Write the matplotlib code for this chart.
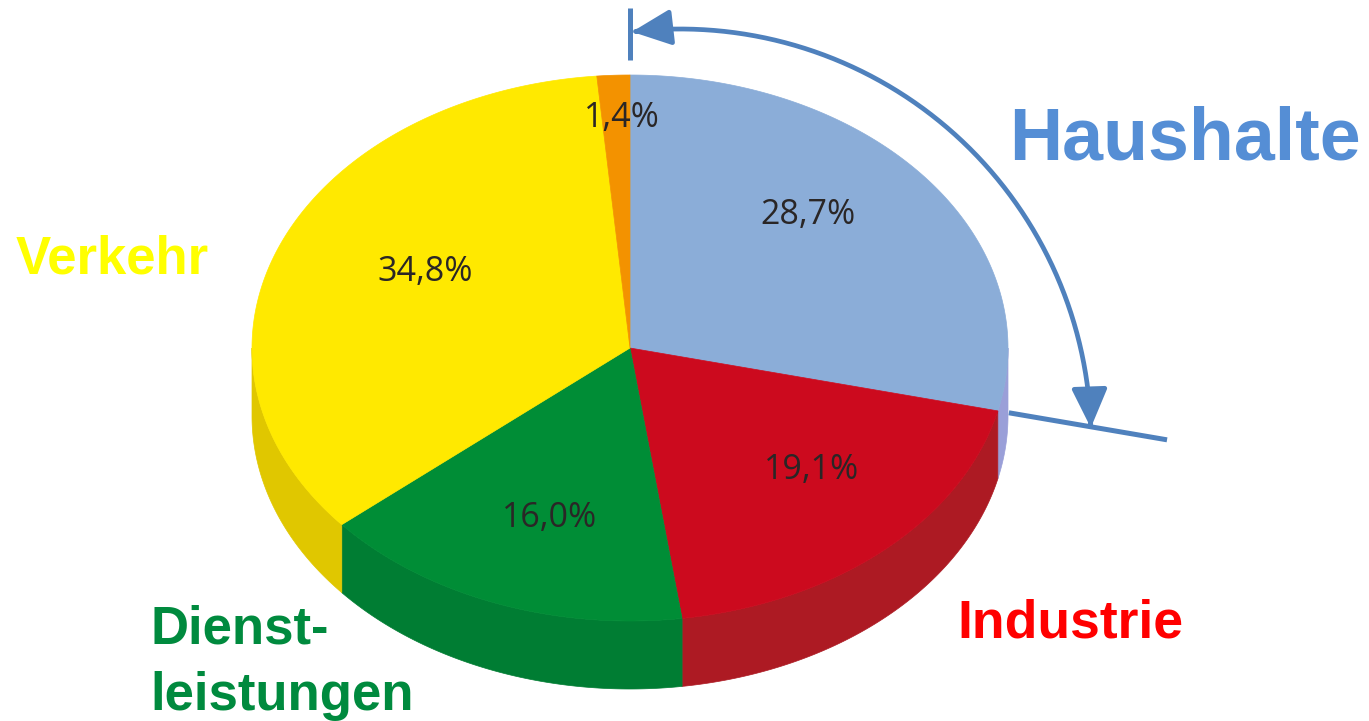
import numpy as np
import matplotlib
matplotlib.use("Agg")
import matplotlib.pyplot as plt
from matplotlib.patches import Polygon, FancyArrowPatch
from matplotlib.path import Path

# Energy consumption shares by sector (clockwise from 12 o'clock)
sectors = ["Haushalte", "Industrie", "Dienstleistungen", "Verkehr", "Sonstige"]
shares = [28.7, 19.1, 16.0, 34.8, 1.4]
share_labels = ["28,7%", "19,1%", "16,0%", "34,8%", "1,4%"]

top_colors = ["#8badd8", "#cc0a1e", "#008d36", "#ffe900", "#f39200"]
side_colors = ["#9a9fd8", "#ad1a23", "#007d33", "#e0c700", "#d98200"]

# Pie geometry in pixel space
CX, CY = 630, 348
RX, RY = 378, 273
DEPTH = 68


def rim(theta_deg, k=1.0, drop=0.0):
    t = np.radians(theta_deg)
    return CX + k * RX * np.sin(t), CY - k * RY * np.cos(t) + drop


fig = plt.figure(figsize=(13.69, 7.21), dpi=100)
ax = fig.add_axes([0, 0, 1, 1])
ax.set_xlim(0, 1369)
ax.set_ylim(721, 0)
ax.axis("off")

bounds = np.concatenate([[0], np.cumsum(shares) / sum(shares) * 360])

# Side walls (visible on the lower half, 90..270 deg)
for i in range(len(shares)):
    a0, a1 = max(bounds[i], 90), min(bounds[i + 1], 270)
    if a1 <= a0:
        continue
    th = np.linspace(a0, a1, 200)
    xt, yt = rim(th)
    xb, yb = rim(th, drop=DEPTH)
    pts = np.column_stack([np.concatenate([xt, xb[::-1]]),
                           np.concatenate([yt, yb[::-1]])])
    ax.add_patch(Polygon(pts, closed=True, facecolor=side_colors[i],
                         edgecolor=side_colors[i], lw=0.5, zorder=1))

# Top face wedges
for i in range(len(shares)):
    th = np.linspace(bounds[i], bounds[i + 1], 300)
    xt, yt = rim(th)
    pts = np.column_stack([np.concatenate([[CX], xt]),
                           np.concatenate([[CY], yt])])
    ax.add_patch(Polygon(pts, closed=True, facecolor=top_colors[i],
                         edgecolor=top_colors[i], lw=0.5, zorder=2))

# Percentage labels
label_xy = [(808, 215), (812, 470), (550, 518), (425, 272), (622, 118)]
for (x, y), txt in zip(label_xy, share_labels):
    ax.text(x, y, txt, ha="center", va="center", fontsize=24.5,
            family="Open Sans", color="#2a2626", zorder=5)

# Sector names
name_font = dict(family="Liberation Sans", fontweight="bold")
ax.text(1185, 160, "Haushalte", ha="center", va="baseline", fontsize=53,
        color="#558ed5", **name_font)
ax.text(112, 273, "Verkehr", ha="center", va="baseline", fontsize=38,
        color="#ffff00", **name_font)
ax.text(1070, 637, "Industrie", ha="center", va="baseline", fontsize=38.5,
        color="#ff0000", **name_font)
ax.text(150, 643, "Dienst-", ha="left", va="baseline", fontsize=38,
        color="#008a3e", **name_font)
ax.text(150, 710, "leistungen", ha="left", va="baseline", fontsize=38,
        color="#008a3e", **name_font)

# Bracket marking the household share
blue = "#4f81bd"
x0, y0 = rim(0, k=1.055)
x1, y1 = rim(0, k=1.245)
ax.plot([x0, x1], [y0, y1], color=blue, lw=3.6, solid_capstyle="butt", zorder=6)
end_angle = bounds[1]
x0, y0 = rim(end_angle, k=1.03)
x1, y1 = rim(end_angle, k=1.46)
ax.plot([x0, x1], [y0, y1], color=blue, lw=3.6, solid_capstyle="butt", zorder=6)

acx, acy, ar = 680, 440, 411
phi = np.radians(np.linspace(-6.7, 88.3, 200))
arc = np.column_stack([acx + ar * np.sin(phi), acy - ar * np.cos(phi)])
arrow = FancyArrowPatch(path=Path(arc),
                        arrowstyle="<|-|>,head_length=24,head_width=11",
                        mutation_scale=1, color=blue, lw=3.4, zorder=6)
ax.add_patch(arrow)

fig.savefig("out.png", dpi=100, facecolor="white")
